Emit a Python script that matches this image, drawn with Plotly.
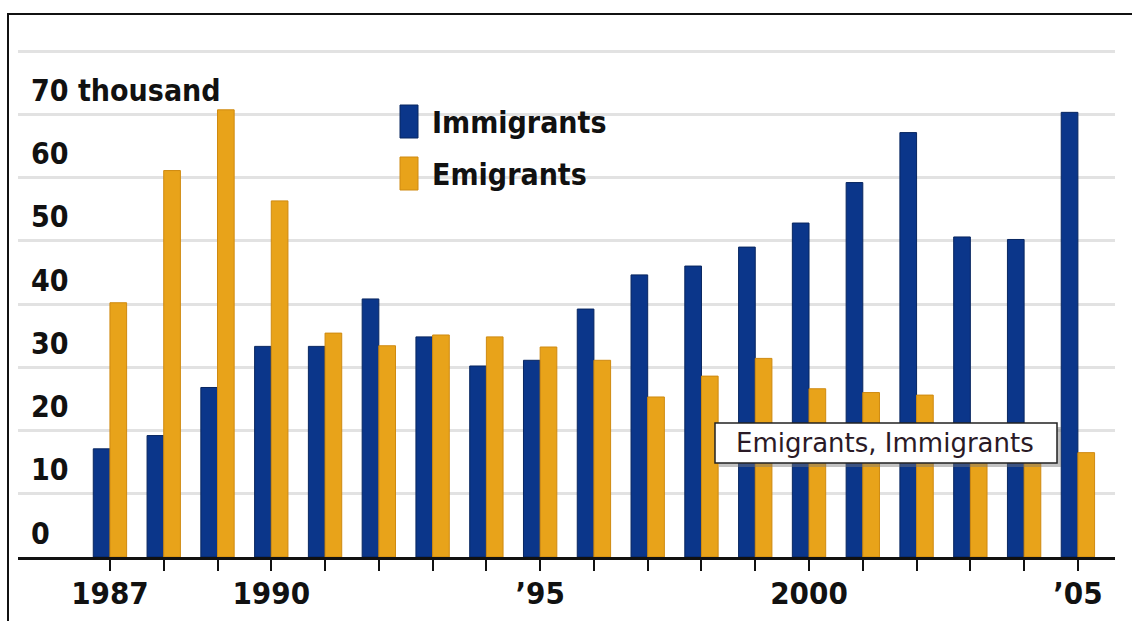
import plotly.graph_objects as go

# ---- data (thousands of people) ----
years = list(range(1987, 2006))
immigrants = [17.1, 19.2, 26.8, 33.3, 33.3, 40.8, 34.8, 30.2, 31.1, 39.2,
              44.6, 46.0, 49.0, 52.8, 59.2, 67.1, 50.6, 50.2, 70.3]
emigrants = [40.2, 61.1, 70.7, 56.3, 35.4, 33.4, 35.1, 34.8, 33.2, 31.1,
             25.3, 28.6, 31.4, 26.6, 26.0, 25.6, 20.0, 18.0, 16.5]
x_tick_labels = {1987: "1987", 1990: "1990", 1995: "’95", 2000: "2000", 2005: "’05"}
y_tick_values = [0, 10, 20, 30, 40, 50, 60, 70]
y_tick_labels = ["0", "10", "20", "30", "40", "50", "60", "70 thousand"]
y_grid_values = [0, 10, 20, 30, 40, 50, 60, 70, 80]
series_names = ["Immigrants", "Emigrants"]
tooltip_text = "Emigrants, Immigrants"

BLUE = "#0b368a"
ORANGE = "#e8a31a"
FONT = "DejaVu Sans Condensed"

# ---- page geometry ----
W, H = 1132, 621
L, R, T, B = 18, 1115, 46, 557
PX_PER_UNIT = (557 - 51) / 80.0          # 80 gridline sits at y = 51
Y_TOP = (B - T) / PX_PER_UNIT            # value at the top edge of the plot


def px_x(x):
    return (x - L) / (R - L)


def px_y(y):
    return (B - y) / (B - T)


fig = go.Figure()
fig.add_trace(go.Bar(x=years, y=immigrants, name=series_names[0],
                     marker=dict(color=BLUE, line=dict(color="#082660", width=1))))
fig.add_trace(go.Bar(x=years, y=emigrants, name=series_names[1],
                     marker=dict(color=ORANGE, line=dict(color="#cf8a10", width=1))))

shapes = []
# outer frame (top and left edges)
shapes.append(dict(type="path", xref="paper", yref="paper",
                   path=f"M {px_x(8)},{px_y(640)} L {px_x(8)},{px_y(14)} L {px_x(1140)},{px_y(14)}",
                   line=dict(color="#111111", width=2)))
# white panel behind the key
shapes.append(dict(type="rect", xref="paper", yref="paper", layer="between",
                   x0=px_x(377), x1=px_x(623), y0=px_y(198), y1=px_y(98),
                   fillcolor="white", line=dict(width=0)))
# key swatches
shapes.append(dict(type="rect", xref="paper", yref="paper",
                   x0=px_x(400), x1=px_x(418), y0=px_y(138), y1=px_y(105),
                   fillcolor=BLUE, line=dict(color="#082660", width=1)))
shapes.append(dict(type="rect", xref="paper", yref="paper",
                   x0=px_x(400), x1=px_x(418), y0=px_y(190), y1=px_y(157),
                   fillcolor=ORANGE, line=dict(color="#cf8a10", width=1)))
# hover-style label box with shadow
shapes.append(dict(type="rect", xref="paper", yref="paper",
                   x0=px_x(719), x1=px_x(1061), y0=px_y(467), y1=px_y(427),
                   fillcolor="rgba(120,120,120,0.45)", line=dict(width=0)))
shapes.append(dict(type="rect", xref="paper", yref="paper",
                   x0=px_x(715), x1=px_x(1057), y0=px_y(463), y1=px_y(423),
                   fillcolor="white", line=dict(color="#222222", width=1.5)))

annotations = []
for v, t in zip(y_tick_values, y_tick_labels):
    annotations.append(dict(text=t, xref="paper", x=px_x(29), xanchor="left",
                            yref="y", y=v, yanchor="middle", yshift=24,
                            showarrow=False,
                            font=dict(family=FONT, size=30, color="#111111", weight="bold")))
annotations.append(dict(text=series_names[0], xref="paper", x=px_x(430), xanchor="left",
                        yref="paper", y=px_y(122), yanchor="middle", showarrow=False,
                        font=dict(family=FONT, size=30, color="#111111", weight="bold")))
annotations.append(dict(text=series_names[1], xref="paper", x=px_x(430), xanchor="left",
                        yref="paper", y=px_y(174), yanchor="middle", showarrow=False,
                        font=dict(family=FONT, size=30, color="#111111", weight="bold")))
annotations.append(dict(text=tooltip_text, xref="paper", x=px_x(885), xanchor="center",
                        yref="paper", y=px_y(443), yanchor="middle", showarrow=False,
                        font=dict(family="DejaVu Sans", size=26, color="#2a1a26")))

fig.update_layout(
    width=W, height=H,
    margin=dict(l=L, r=W - R, t=T, b=H - B, autoexpand=False),
    paper_bgcolor="white", plot_bgcolor="white",
    barmode="group", bargap=0.38, bargroupgap=0.0,
    showlegend=False,
    shapes=shapes, annotations=annotations,
    xaxis=dict(range=[1985.29, 2005.69], tickmode="array", tickvals=years,
               ticktext=[x_tick_labels.get(y, "") for y in years],
               ticks="outside", ticklen=11, tickwidth=2, tickcolor="#111111",
               ticklabelstandoff=-4,
               showline=True, linecolor="#111111", linewidth=2.5,
               showgrid=False, zeroline=False, automargin=False,
               tickfont=dict(family=FONT, size=31, color="#111111", weight="bold")),
    yaxis=dict(range=[0, Y_TOP], tickmode="array", tickvals=y_grid_values,
               showticklabels=False, ticks="", showgrid=True, gridcolor="#e2e2e2",
               gridwidth=2.5, zeroline=False, showline=False, automargin=False),
)

fig.write_html("out.html")
